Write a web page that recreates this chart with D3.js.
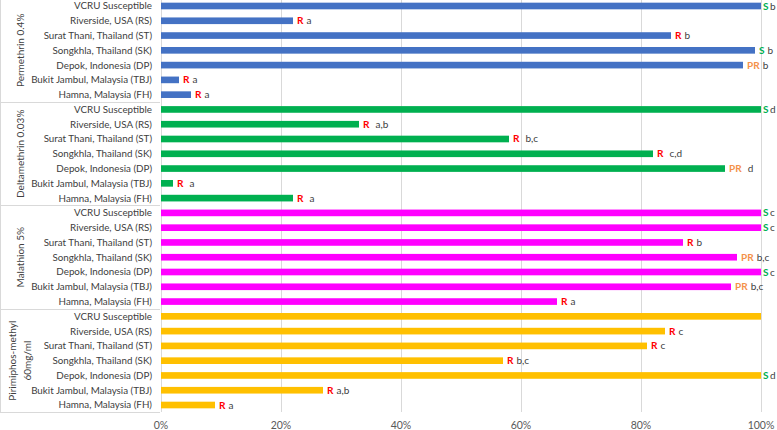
<!DOCTYPE html>
<html>
<head>
<meta charset="utf-8">
<title>insecticide susceptibility</title>
<script src="https://d3js.org/d3.v7.min.js"></script>
<style>
  body { margin: 0; background: #fff; }
  text { font-family: Lato, "Open Sans", sans-serif; }
</style>
</head>
<body>
<script>
// data
var strains = ["VCRU Susceptible", "Riverside, USA (RS)", "Surat Thani, Thailand (ST)",
  "Songkhla, Thailand (SK)", "Depok, Indonesia (DP)", "Bukit Jambul, Malaysia (TBJ)",
  "Hamna, Malaysia (FH)"];
var groups = ["Permethrin 0.4%", "Deltamethrin 0.03%", "Malathion 5%", "Pirimiphos-methyl 60mg/ml"];
var groupLines = [["Permethrin 0.4%"], ["Deltamethrin 0.03%"], ["Malathion 5%"], ["Pirimiphos-methyl", "60mg/ml"]];

var permethrin   = [100, 22, 85, 99, 97, 3, 5];
var deltamethrin = [100, 33, 58, 82, 94, 2, 22];
var malathion    = [100, 100, 87, 96, 100, 95, 66];
var pirimiphos   = [100, 84, 81, 57, 100, 27, 9];

var permStatus  = ["S", "R", "R", "S", "PR", "R", "R"];
var deltaStatus = ["S", "R", "R", "R", "PR", "R", "R"];
var malaStatus  = ["S", "S", "R", "PR", "S", "PR", "R"];
var pirStatus   = ["", "R", "R", "R", "S", "R", "R"];

var permLetter  = ["b", "a", "b", "b", "b", "a", "a"];
var deltaLetter = ["d", "a,b", "b,c", "c,d", "d", "a", "a"];
var malaLetter  = ["c", "c", "b", "b,c", "c", "b,c", "a"];
var pirLetter   = ["", "c", "c", "b,c", "d", "a,b", "a"];

var xTicks = [0, 20, 40, 60, 80, 100];

var seriesValues = [permethrin, deltamethrin, malathion, pirimiphos];
var seriesStatus = [permStatus, deltaStatus, malaStatus, pirStatus];
var seriesLetters = [permLetter, deltaLetter, malaLetter, pirLetter];
var barColors = ["#4472C4", "#00B050", "#FF00FF", "#FFC000"];
var statusColors = { "S": "#00B050", "R": "#FF0000", "PR": "#F4914A" };

var rows = [];
groups.forEach(function(g, gi) {
  strains.forEach(function(s, si) {
    rows.push({ key: gi + "-" + si, group: gi, strain: s, value: seriesValues[gi][si],
      stat: seriesStatus[gi][si], letter: seriesLetters[gi][si] });
  });
});

var width = 777, height = 430;
var svg = d3.select("body").append("svg")
  .attr("width", width).attr("height", height);

var x = d3.scaleLinear().domain([0, 100]).range([161, 761]);
var y = d3.scaleBand().domain(rows.map(function(d) { return d.key; }))
  .range([-1.4, 412.4]).paddingInner(0.55).paddingOuter(0.275);
var step = y.step();

// grid
svg.append("g").selectAll("line").data(xTicks).enter().append("line")
  .attr("x1", function(d) { return x(d) + 0.5; })
  .attr("x2", function(d) { return x(d) + 0.5; })
  .attr("y1", 0).attr("y2", 412)
  .attr("stroke", "#d9d9d9").attr("stroke-width", 1);

// x tick labels
svg.append("g").selectAll("text").data(xTicks).enter().append("text")
  .attr("x", function(d) { return x(d); })
  .attr("y", 429)
  .attr("text-anchor", "middle")
  .attr("font-size", 10.5).attr("fill", "#595959")
  .text(function(d) { return d + "%"; });

// group separators on the category axis
svg.append("line").attr("x1", 0.5).attr("x2", 0.5).attr("y1", 0).attr("y2", 412)
  .attr("stroke", "#d9d9d9");
svg.append("g").selectAll("line").data([1, 2, 3, 4]).enter().append("line")
  .attr("x1", 0).attr("x2", 160)
  .attr("y1", function(d) { return Math.round(-1.4 + d * 7 * step) + 0.5; })
  .attr("y2", function(d) { return Math.round(-1.4 + d * 7 * step) + 0.5; })
  .attr("stroke", "#d9d9d9");

// category labels
svg.append("g").selectAll("text").data(rows).enter().append("text")
  .attr("x", 152)
  .attr("y", function(d) { return y(d.key) + y.bandwidth() / 2; })
  .attr("dy", "0.35em")
  .attr("text-anchor", "end")
  .attr("font-size", 9.8).attr("fill", "#404040")
  .text(function(d) { return d.strain; });

// group labels (rotated)
groupLines.forEach(function(lines, gi) {
  var cy = -1.4 + (gi + 0.5) * 7 * step;
  var n = lines.length;
  lines.forEach(function(l, li) {
    var cx = 20 + (li - (n - 1) / 2) * 15;
    svg.append("text")
      .attr("transform", "translate(" + cx + "," + cy + ") rotate(-90)")
      .attr("text-anchor", "middle").attr("dy", "0.35em")
      .attr("font-size", 10).attr("fill", "#404040")
      .text(l);
  });
});

// bars
svg.append("g").selectAll("rect").data(rows).enter().append("rect")
  .attr("x", x(0))
  .attr("y", function(d) { return y(d.key); })
  .attr("width", function(d) { return x(d.value) - x(0); })
  .attr("height", y.bandwidth())
  .attr("fill", function(d) { return barColors[d.group]; });

// annotations
var ann = svg.append("g").selectAll("text").data(rows.filter(function(d) { return d.stat; }))
  .enter().append("text")
  .attr("x", function(d) { return x(d.value) + (d.value >= 100 ? 2 : 4); })
  .attr("y", function(d) { return y(d.key) + y.bandwidth() / 2; })
  .attr("dy", "0.35em")
  .attr("font-size", 10);
ann.append("tspan")
  .attr("font-weight", "bold")
  .attr("fill", function(d) { return statusColors[d.stat]; })
  .text(function(d) { return d.stat; });
ann.append("tspan")
  .attr("fill", "#404040")
  .attr("dx", function(d) { return d.value >= 100 ? 1.5 : (d.group === 1 ? 6 : 3); })
  .text(function(d) { return d.letter; });
</script>
</body>
</html>
